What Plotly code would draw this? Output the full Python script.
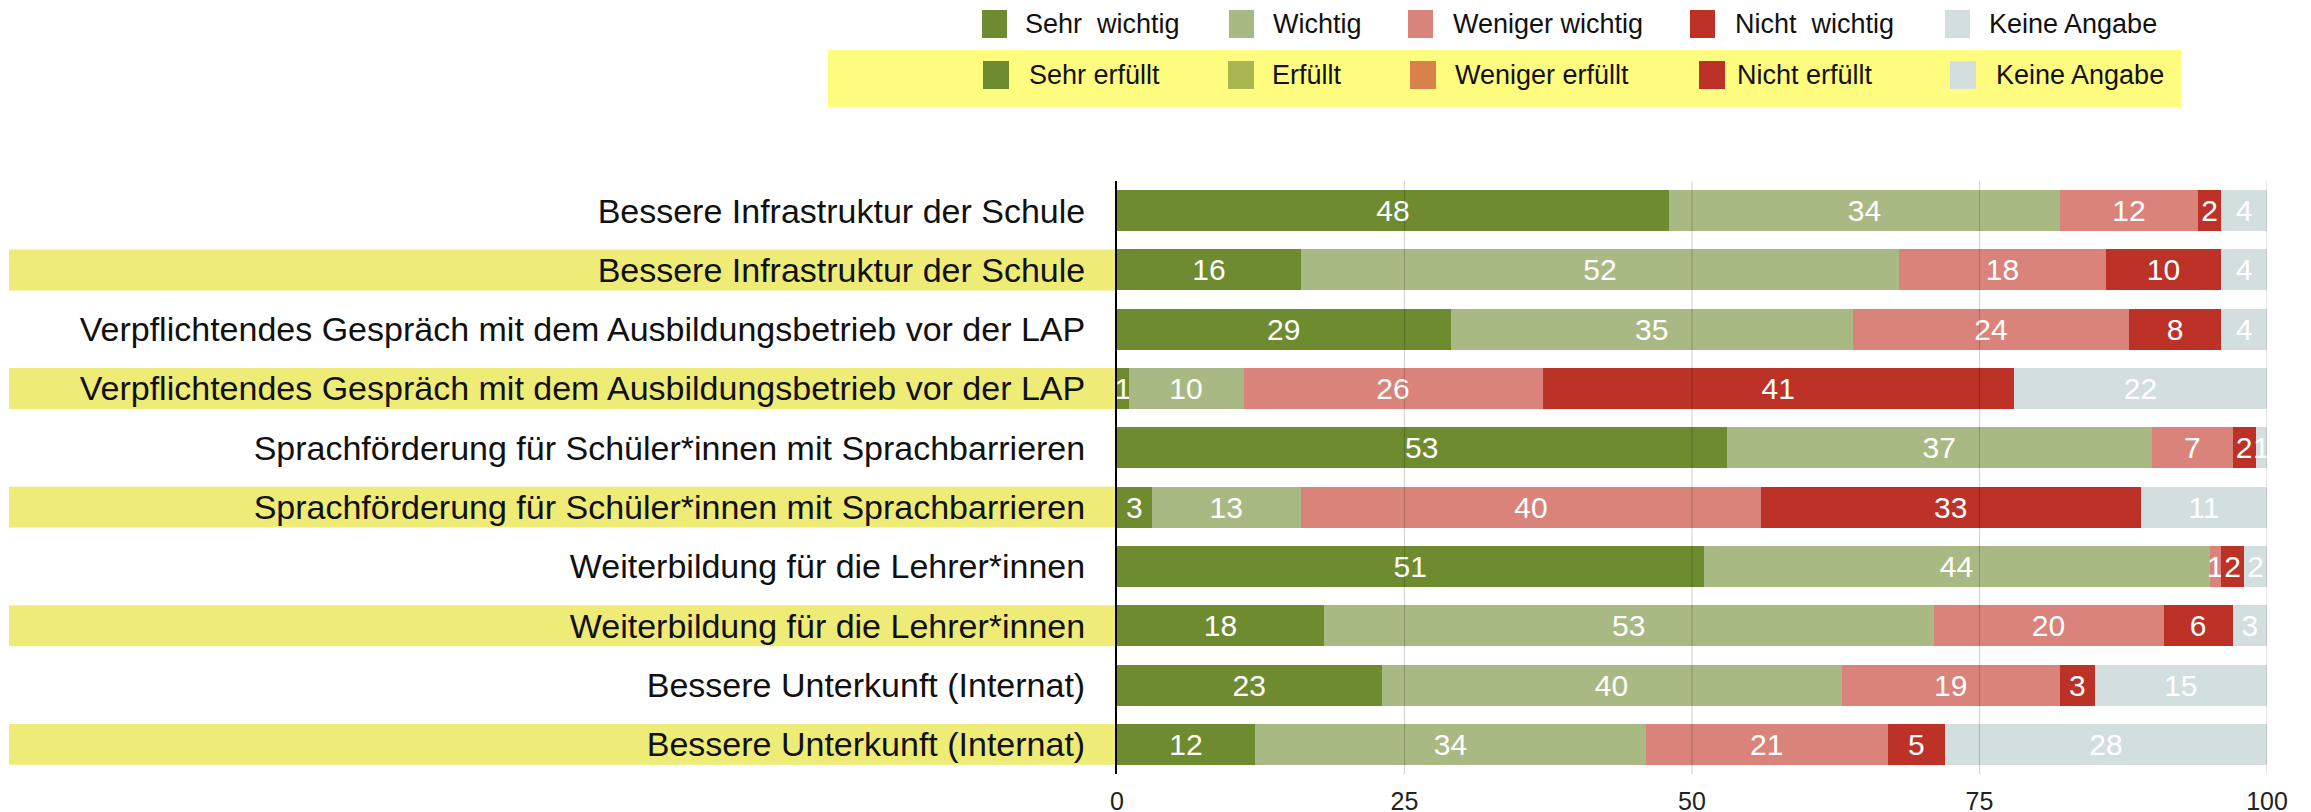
import plotly.graph_objects as go

# ---------------- data ----------------
categories = [
    "Bessere Infrastruktur der Schule",
    "Bessere Infrastruktur der Schule",
    "Verpflichtendes Gespräch mit dem Ausbildungsbetrieb vor der LAP",
    "Verpflichtendes Gespräch mit dem Ausbildungsbetrieb vor der LAP",
    "Sprachförderung für Schüler*innen mit Sprachbarrieren",
    "Sprachförderung für Schüler*innen mit Sprachbarrieren",
    "Weiterbildung für die Lehrer*innen",
    "Weiterbildung für die Lehrer*innen",
    "Bessere Unterkunft (Internat)",
    "Bessere Unterkunft (Internat)",
]
highlighted = [False, True, False, True, False, True, False, True, False, True]

sehr = [48, 16, 29, 1, 53, 3, 51, 18, 23, 12]
wichtig = [34, 52, 35, 10, 37, 13, 44, 53, 40, 34]
weniger = [12, 18, 24, 26, 7, 40, 1, 20, 19, 21]
nicht = [2, 10, 8, 41, 2, 33, 2, 6, 3, 5]
keine = [4, 4, 4, 22, 1, 11, 2, 3, 15, 28]

series_names = ["Sehr  wichtig", "Wichtig", "Weniger wichtig", "Nicht  wichtig", "Keine Angabe"]
series_values = [sehr, wichtig, weniger, nicht, keine]
series_colors = ["#6e8b2f", "#a9b984", "#d9837a", "#bc3226", "#d3dedf"]

legend2_names = ["Sehr erfüllt", "Erfüllt", "Weniger erfüllt", "Nicht erfüllt", "Keine Angabe"]
legend2_colors = ["#6e8b2f", "#a9b751", "#d8824a", "#bc3226", "#d3dedf"]

x_ticks = [0, 25, 50, 75, 100]

# ---------------- layout geometry ----------------
OFF = 8  # page body margin offset
W, H = 2311, 812
ML, MR, MT, MB = 1117 - OFF, 44 + OFF, 181 - OFF, 38 + OFF
PW = W - ML - MR
PH = H - MT - MB
FONT = "Liberation Sans, Arial, Helvetica, sans-serif"


def px(xp):
    # page pixel -> paper x
    return (xp - OFF - ML) / PW


def py(yp):
    # page pixel -> paper y
    return (H - MB - (yp - OFF)) / PH


ypos = list(range(len(categories)))
fig = go.Figure()

for name, vals, col in zip(series_names, series_values, series_colors):
    fig.add_trace(go.Bar(
        y=ypos, x=vals, orientation="h", name=name,
        marker=dict(color=col, line=dict(width=0)),
        text=[str(v) for v in vals], textposition="inside",
        insidetextanchor="middle", constraintext="none",
        textfont=dict(color="white", size=30, family=FONT),
        width=0.69, showlegend=False, cliponaxis=False,
    ))

shapes = []
# yellow highlights behind selected category labels
for i, h in enumerate(highlighted):
    if h:
        shapes.append(dict(type="rect", xref="paper", yref="y",
                           x0=px(9), x1=px(1115), y0=i - 0.345, y1=i + 0.345,
                           fillcolor="#eeeb76", line=dict(width=0), layer="below"))
# gridlines drawn over bars
for t in x_ticks[1:]:
    shapes.append(dict(type="line", xref="x", yref="paper", x0=t, x1=t,
                       y0=0, y1=1.0, line=dict(color="rgba(0,0,0,0.17)", width=1.2),
                       layer="above"))

# custom legend
annotations = []
row1_sq = [982, 1229, 1408, 1690, 1945]
row1_tx = [1023, 1271, 1451, 1733, 1987]
row2_sq = [983, 1228, 1410, 1699, 1950]
row2_tx = [1027, 1270, 1453, 1735, 1994]
shapes.append(dict(type="rect", xref="paper", yref="paper",
                   x0=px(828), x1=px(2181), y0=py(107), y1=py(50),
                   fillcolor="#fffc80", line=dict(width=0)))
for name, col, sx, tx in zip(series_names, series_colors, row1_sq, row1_tx):
    shapes.append(dict(type="rect", xref="paper", yref="paper",
                       x0=px(sx), x1=px(sx + 25), y0=py(38), y1=py(10),
                       fillcolor=col, line=dict(width=0)))
    annotations.append(dict(xref="paper", yref="paper", x=px(tx), y=py(24),
                            text=name.replace("  ", "\u00a0 "), showarrow=False,
                            xanchor="left", yanchor="middle",
                            font=dict(size=27, color="#111111", family=FONT)))
for name, col, sx, tx in zip(legend2_names, legend2_colors, row2_sq, row2_tx):
    shapes.append(dict(type="rect", xref="paper", yref="paper",
                       x0=px(sx), x1=px(sx + 26), y0=py(89), y1=py(61),
                       fillcolor=col, line=dict(width=0)))
    annotations.append(dict(xref="paper", yref="paper", x=px(tx), y=py(75),
                            text=name, showarrow=False,
                            xanchor="left", yanchor="middle",
                            font=dict(size=27, color="#111111", family=FONT)))

fig.update_layout(
    width=W, height=H,
    margin=dict(l=ML, r=MR, t=MT, b=MB, pad=0, autoexpand=False),
    barmode="stack",
    plot_bgcolor="white", paper_bgcolor="white",
    font=dict(family=FONT, color="#111111"),
    shapes=shapes, annotations=annotations,
    uniformtext=dict(minsize=30, mode="show"),
    showlegend=False,
)
fig.update_xaxes(
    range=[0, 100], tickvals=x_ticks, ticktext=[str(t) for t in x_ticks],
    showgrid=False, zeroline=False, showline=False, automargin=False,
    tickfont=dict(size=25, color="#222222", family=FONT),
    ticks="", ticklabelstandoff=10,
)
fig.update_yaxes(
    range=[len(categories) - 0.5, -0.5],
    tickvals=ypos, ticktext=categories, automargin=False,
    showgrid=False, zeroline=False,
    showline=True, linecolor="black", linewidth=2,
    tickfont=dict(size=34, color="#111111", family=FONT),
    ticks="", ticklabelstandoff=23,
)

fig.write_html("out.html")
